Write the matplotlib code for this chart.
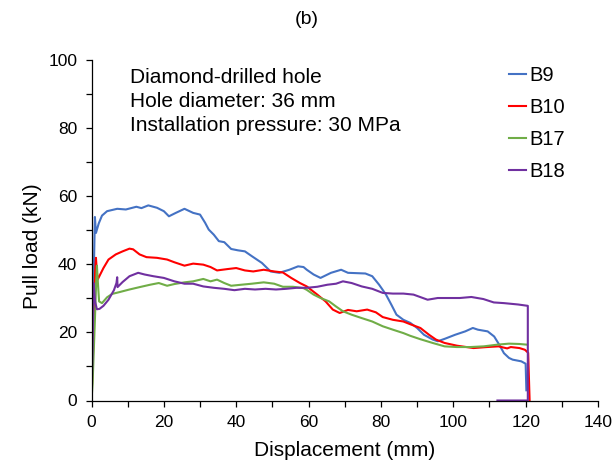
import matplotlib
matplotlib.use("Agg")
import matplotlib.pyplot as plt
from matplotlib.ticker import MultipleLocator

plt.rcParams["font.family"] = ["Liberation Sans", "DejaVu Sans"]

# Pull-out curves: displacement (mm) vs pull load (kN)
b9_x = [0, 0.5, 0.94, 1.23, 2.0, 2.9, 4.3, 7.1, 9.5, 12.4, 13.8, 15.7, 18.1, 20.0, 21.4,
        23.3, 25.7, 28.1, 30.0, 31.4, 32.4, 33.8, 35.2, 36.7, 38.6, 40.5, 42.4, 44.3, 47.1,
        49.5, 51.9, 54.7, 57.1, 58.6, 59.5, 61.4, 63.3, 66.2, 69.0, 70.9, 75.7, 77.6, 79.5,
        81.4, 82.9, 84.3, 86.2, 88.1, 90.0, 91.9, 94.3, 95.7, 97.6, 100.5, 103.3, 105.4,
        106.8, 109.5, 111.3, 112.7, 114.0, 115.4, 116.4, 118.8, 120.0, 120.2]
b9_y = [0, 30, 53.9, 49.2, 52.0, 54.3, 55.6, 56.3, 56.1, 56.9, 56.5, 57.3, 56.6, 55.6, 54.1,
        55.1, 56.3, 55.1, 54.6, 52.2, 50.2, 48.7, 46.8, 46.5, 44.5, 44.1, 43.8, 42.4, 40.4,
        37.9, 37.5, 38.4, 39.4, 39.2, 38.4, 37.0, 36.0, 37.5, 38.4, 37.5, 37.3, 36.5, 34.0,
        31.1, 28.1, 25.2, 23.7, 22.8, 21.3, 19.3, 17.9, 17.4, 18.1, 19.3, 20.3, 21.3,
        20.8, 20.3, 18.8, 16.4, 13.9, 12.5, 12.0, 11.5, 10.8, 3.0]

b10_x = [0, 0.6, 1.0, 1.23, 1.5, 1.7, 2.4, 3.3, 4.7, 6.7, 8.6, 10.5, 11.5, 13.3, 15.2, 18.1,
         20.9, 22.9, 25.7, 28.1, 30.9, 32.9, 34.7, 37.6, 40.0, 42.4, 44.7, 47.6, 50.5, 52.9,
         55.2, 57.6, 59.5, 62.4, 64.7, 66.7, 68.6, 70.9, 73.3, 76.2, 78.6, 80.5, 83.3, 86.2,
         88.1, 90.9, 93.3, 95.2, 97.6, 101.0, 105.6, 109.3, 112.5, 114.9, 115.9, 118.3,
         119.8, 120.7, 121.1]
b10_y = [0, 20, 38, 41.9, 37.5, 35.5, 37.0, 38.9, 41.4, 42.9, 43.8, 44.6, 44.4, 42.9, 42.1,
         41.9, 41.4, 40.6, 39.6, 40.2, 39.9, 39.2, 38.2, 38.6, 38.9, 38.2, 37.9, 38.4, 37.9,
         37.6, 36.0, 34.5, 33.5, 31.1, 29.1, 26.7, 25.7, 26.6, 26.2, 26.7, 25.9, 24.5, 23.7,
         23.2, 22.4, 21.3, 19.3, 17.9, 16.9, 16.1, 15.4, 15.7, 15.9, 15.3, 15.7, 15.4,
         14.9, 14.0, 0]

b17_x = [0, 0.3, 0.94, 1.3, 1.5, 1.8, 2.1, 2.9, 4.3, 5.7, 7.6, 10.5, 13.3, 16.2, 18.6, 20.9,
         22.9, 25.7, 28.1, 30.9, 32.9, 34.7, 36.7, 38.6, 41.4, 44.3, 47.6, 50.5, 52.9, 55.7,
         58.6, 59.5, 61.4, 63.3, 65.7, 67.6, 69.5, 71.9, 74.7, 77.6, 80.5, 83.3, 86.2, 88.1,
         90.9, 94.3, 97.6, 101.0, 104.7, 108.4, 112.2, 115.4, 118.2, 120.4]
b17_y = [0, 5, 23.7, 35, 39.6, 34, 29.1, 28.6, 30.3, 31.3, 31.8, 32.6, 33.3, 34.0, 34.5, 33.7,
         34.2, 34.7, 35.0, 35.7, 35.0, 35.5, 34.5, 33.7, 34.0, 34.3, 34.7, 34.3, 33.4, 33.4,
         33.0, 32.5, 31.1, 30.1, 29.1, 27.6, 26.2, 25.2, 24.2, 23.2, 21.8, 20.8, 19.8, 19.0,
         18.0, 16.9, 15.9, 15.7, 15.7, 15.9, 16.4, 16.7, 16.6, 16.4]

b18_x = [0, 0.3, 0.6, 1.0, 1.5, 2.2, 3.3, 4.7, 6.2, 6.9, 7.1, 7.2, 8.6, 10.5, 12.9, 14.7, 17.1,
         20.0, 22.9, 25.7, 28.1, 30.9, 33.8, 36.7, 39.5, 42.4, 45.2, 48.1, 51.0, 53.8, 56.7,
         59.5, 62.4, 65.2, 67.6, 69.5, 71.9, 74.7, 77.6, 80.5, 83.3, 86.2, 89.0, 92.9, 95.7,
         99.0, 101.8, 105.0, 108.3, 111.2, 114.0, 117.9, 120.6, 120.6, 112.2]
b18_y = [0, 15, 34.5, 29.0, 26.8, 26.9, 27.8, 29.6, 32.4, 34.5, 36.2, 33.3, 34.8, 36.5, 37.5,
         37.0, 36.5, 36.0, 35.0, 34.3, 34.3, 33.5, 33.1, 32.8, 32.4, 32.8, 32.6, 32.8, 32.6,
         32.8, 33.1, 33.1, 33.4, 34.0, 34.3, 35.0, 34.5, 33.5, 32.8, 31.6, 31.4, 31.4, 31.1,
         29.6, 30.1, 30.1, 30.1, 30.4, 29.8, 28.8, 28.6, 28.2, 27.8, 0, 0]

series = [
    ("B9", b9_x, b9_y, "#4472C4"),
    ("B10", b10_x, b10_y, "#FF0000"),
    ("B17", b17_x, b17_y, "#70AD47"),
    ("B18", b18_x, b18_y, "#7030A0"),
]

notes = ["Diamond-drilled hole", "Hole diameter: 36 mm", "Installation pressure: 30 MPa"]

W, H = 614, 463
X0, X1, Y0, Y1 = 91.5, 598.0, 400.5, 60.0
fig = plt.figure(figsize=(W / 100, H / 100), dpi=100)
ax = fig.add_axes([X0 / W, 1 - Y0 / H, (X1 - X0) / W, (Y0 - Y1) / H])

for name, xs, ys, color in series:
    ax.plot(xs, ys, color=color, lw=1.5, label=name, solid_joinstyle="round")

ax.set_xlim(0, 140)
ax.set_ylim(0, 100)
ax.xaxis.set_major_locator(MultipleLocator(20))
ax.xaxis.set_minor_locator(MultipleLocator(10))
ax.yaxis.set_major_locator(MultipleLocator(20))
ax.yaxis.set_minor_locator(MultipleLocator(10))
ax.tick_params(which="both", direction="out", length=4.2, width=0.9, color="black")
ax.tick_params(which="major", labelsize=12.5, pad=6)
for side in ("top", "right"):
    ax.spines[side].set_visible(False)
for side in ("left", "bottom"):
    ax.spines[side].set_linewidth(0.9)

fig.text(32 / W, 1 - 246 / H, "Pull load (kN)", rotation=90, ha="center", va="center",
         fontsize=15)
fig.text((X0 + X1) / 2 / W, 1 - 450 / H, "Displacement (mm)", ha="center", va="center",
         fontsize=15)
fig.text(0.5, 1 - 20 / H, "(b)", ha="center", va="center", fontsize=14)

for i, line in enumerate(notes):
    fig.text(130 / W, 1 - (83 + 24 * i) / H, line, ha="left", va="baseline", fontsize=15)

leg = ax.legend(loc="upper left", bbox_to_anchor=(509 / W, 1 - 66 / H),
                bbox_transform=fig.transFigure, frameon=False, fontsize=14.5,
                handlelength=0.85, handletextpad=0.15, labelspacing=0.64,
                borderpad=0, borderaxespad=0)
for h in leg.get_lines():
    h.set_linewidth(1.5)

fig.savefig("out.png", dpi=100)
